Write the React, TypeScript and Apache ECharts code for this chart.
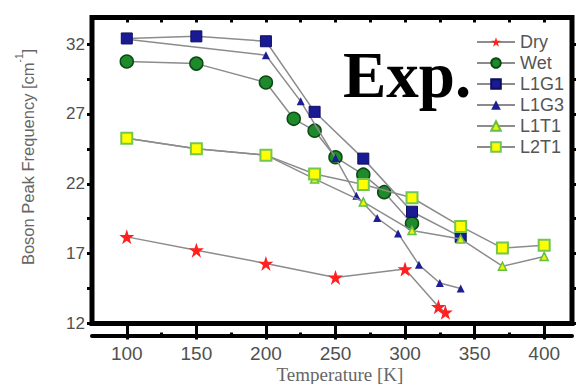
import React, { useEffect, useRef } from "react";
import * as echarts from "echarts";

// ---- data ----
const tempDry = [100, 150, 200, 250, 300, 324, 329];
const dry = [18.2, 17.25, 16.3, 15.3, 15.9, 13.2, 12.8];

const tempWet = [100, 150, 200, 220, 235, 250, 270, 285, 305];
const wet = [30.75, 30.6, 29.25, 26.65, 25.8, 23.9, 22.65, 21.4, 19.15];

const tempL1G1 = [100, 150, 200, 235, 270, 305, 340];
const l1g1 = [32.4, 32.55, 32.2, 27.15, 23.8, 20.0, 18.2];

const tempL1G3 = [100, 200, 225, 250, 265, 280, 295, 310, 325, 340];
const l1g3 = [32.35, 31.2, 27.9, 23.85, 21.15, 19.55, 18.45, 16.2, 14.9, 14.5];

const tempL1T1 = [100, 150, 200, 235, 270, 305, 340, 370, 400];
const l1t1 = [25.25, 24.5, 24.05, 22.35, 20.7, 18.65, 18.05, 16.1, 16.8];

const tempL2T1 = [100, 150, 200, 235, 270, 305, 340, 370, 400];
const l2t1 = [25.25, 24.5, 24.05, 22.7, 21.95, 21.0, 18.95, 17.4, 17.6];

const xMajor = [100, 150, 200, 250, 300, 350, 400];
const xMinor = [125, 175, 225, 275, 325, 375];
const yMajor = [12, 17, 22, 27, 32];
const yMinor = [14.5, 19.5, 24.5, 29.5];

const legendOrder = ["Dry", "Wet", "L1G1", "L1G3", "L1T1", "L2T1"];

const pairs = (xs: number[], ys: number[]) => xs.map((x, i) => [x, ys[i]]);

export default function App() {
  const ref = useRef<HTMLDivElement>(null);

  useEffect(() => {
    if (!ref.current) return;
    const chart = echarts.init(ref.current, null, { renderer: "svg" });
    const lineStyle = { color: "#8c8c8c", width: 1.5 };
    const sans = "Liberation Sans";
    const xr = { min: 75, max: 420 };
    const yr = { min: 12, max: 33.9 };
    const tickStyle = { color: "#000", width: 3 };

    const option: any = {
      animation: false,
      backgroundColor: "#fff",
      grid: {
        left: 92,
        right: 5,
        top: 17.5,
        bottom: 60.5,
        show: true,
        borderColor: "#000",
        borderWidth: 5,
      },
      legend: {
        data: legendOrder,
        orient: "vertical",
        left: 471,
        top: 28,
        itemWidth: 38,
        itemHeight: 12,
        itemGap: 3,
        textStyle: { fontFamily: sans, fontSize: 18, color: "#555", lineHeight: 18 },
      },
      xAxis: [
        {
          type: "value",
          position: "bottom",
          ...xr,
          axisLine: { show: false, onZero: false },
          splitLine: { show: false },
          axisTick: { show: true, customValues: xMajor, length: 16, lineStyle: tickStyle },
          axisLabel: { show: false },
        },
        {
          type: "value",
          position: "top",
          ...xr,
          axisLine: { show: false, onZero: false },
          splitLine: { show: false },
          axisTick: { show: true, inside: true, customValues: [...xMajor, ...xMinor], length: 5, lineStyle: tickStyle },
          axisLabel: { show: false },
        },
        {
          type: "value",
          position: "bottom",
          offset: 12,
          ...xr,
          axisLine: { show: true, onZero: false, lineStyle: { color: "#000", width: 4 } },
          splitLine: { show: false },
          axisTick: { show: true, inside: true, customValues: xMinor, length: 3, lineStyle: tickStyle },
          axisLabel: {
            show: true,
            customValues: xMajor,
            margin: 8,
            fontSize: 19,
            fontFamily: sans,
            color: "#505050",
          },
        },
      ],
      yAxis: [
        {
          type: "value",
          position: "left",
          ...yr,
          axisLine: { show: false, onZero: false },
          splitLine: { show: false },
          axisTick: { show: true, customValues: [...yMajor, ...yMinor], length: 5, lineStyle: tickStyle },
          axisLabel: {
            show: true,
            customValues: yMajor,
            margin: 7,
            fontSize: 17,
            fontFamily: sans,
            color: "#505050",
          },
        },
        {
          type: "value",
          position: "right",
          ...yr,
          axisLine: { show: false, onZero: false },
          splitLine: { show: false },
          axisTick: { show: true, customValues: [...yMajor, ...yMinor], length: 4, lineStyle: tickStyle },
          axisLabel: { show: false },
        },
      ],
      graphic: [
        {
          type: "text",
          z: 100,
          style: {
            x: 343,
            y: 75,
            text: "Exp.",
            fontFamily: "Liberation Serif",
            fontWeight: "bold",
            fontSize: 65,
            fill: "#000",
            verticalAlign: "middle",
            align: "left",
          },
        },
        {
          type: "text",
          style: {
            x: 340,
            y: 374,
            text: "Temperature [K]",
            fontFamily: "Liberation Serif",
            fontSize: 19,
            fill: "#666",
            align: "center",
            verticalAlign: "middle",
          },
        },
        {
          type: "text",
          x: 25,
          y: 157,
          rotation: Math.PI / 2,
          style: {
            x: 0,
            y: 0,
            text: "{a|Boson Peak Frequency [cm}{s|-1}{a|]}",
            align: "center",
            verticalAlign: "middle",
            fill: "#666",
            fontFamily: sans,
            rich: {
              a: { fontSize: 16.5, fontFamily: sans, fill: "#666", verticalAlign: "bottom", lineHeight: 22 },
              s: { fontSize: 10, fontFamily: sans, fill: "#666", verticalAlign: "top", lineHeight: 22 },
            },
          },
        },
      ],
      series: [
        {
          name: "Dry",
          type: "line",
          data: pairs(tempDry, dry),
          symbol: "path://M50,0 L61.8,35.4 L98.8,35.4 L68.9,57.3 L80.3,92.7 L50,70.8 L19.7,92.7 L31.1,57.3 L1.2,35.4 L38.2,35.4 Z",
          symbolSize: 15,
          itemStyle: { color: "#ff2020" },
          lineStyle,
          z: 3,
        },
        {
          name: "Wet",
          type: "line",
          data: pairs(tempWet, wet),
          symbol: "circle",
          symbolSize: 13,
          itemStyle: { color: "#1f8a2c", borderColor: "#0c4a14", borderWidth: 1.5 },
          lineStyle,
          z: 4,
        },
        {
          name: "L1G3",
          type: "line",
          data: pairs(tempL1G3, l1g3),
          symbol: "triangle",
          symbolSize: 8,
          itemStyle: { color: "#1d1d96" },
          lineStyle,
          z: 5,
        },
        {
          name: "L1G1",
          type: "line",
          data: pairs(tempL1G1, l1g1),
          symbol: "rect",
          symbolSize: 11,
          itemStyle: { color: "#1a1a94", borderColor: "#0e0e60", borderWidth: 1 },
          lineStyle,
          z: 6,
        },
        {
          name: "L1T1",
          type: "line",
          data: pairs(tempL1T1, l1t1),
          symbol: "triangle",
          symbolSize: 8,
          itemStyle: { color: "#f2f200", borderColor: "#63bf45", borderWidth: 1.5 },
          lineStyle,
          z: 7,
        },
        {
          name: "L2T1",
          type: "line",
          data: pairs(tempL2T1, l2t1),
          symbol: "rect",
          symbolSize: 11,
          itemStyle: { color: "#ffff00", borderColor: "#73c652", borderWidth: 2 },
          lineStyle,
          z: 8,
        },
      ],
    };

    chart.setOption(option);
    return () => chart.dispose();
  }, []);

  return <div ref={ref} style={{ width: 577, height: 384, position: "absolute", left: 0, top: 0 }} />;
}
